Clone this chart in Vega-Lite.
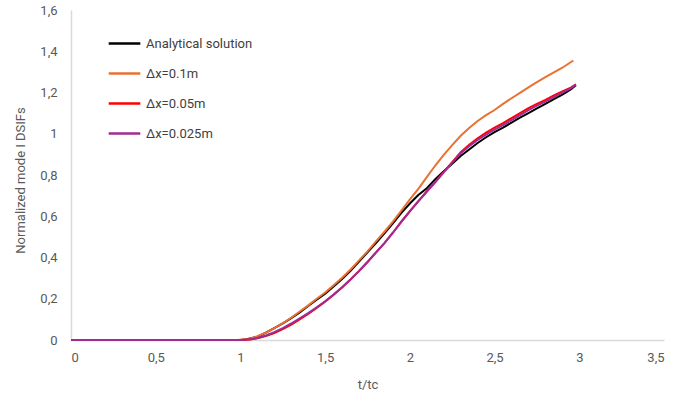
{
 "$schema": "https://vega.github.io/schema/vega-lite/v6.json",
 "autosize": "none",
 "width": 593,
 "height": 330,
 "padding": {"left": 71, "top": 10, "right": 30, "bottom": 59},
 "background": "white",
 "config": {"view": {"stroke": null}, "font": "Roboto, sans-serif"},
 "data": {"values": [
  {"s":"Analytical solution","t":0,"v":0},{"s":"Analytical solution","t":1.0,"v":0},{"s":"Analytical solution","t":1.03,"v":0.002},{"s":"Analytical solution","t":1.1,"v":0.016},{"s":"Analytical solution","t":1.15,"v":0.036},{"s":"Analytical solution","t":1.2,"v":0.058},{"s":"Analytical solution","t":1.25,"v":0.08},{"s":"Analytical solution","t":1.3,"v":0.106},{"s":"Analytical solution","t":1.35,"v":0.134},{"s":"Analytical solution","t":1.4,"v":0.165},{"s":"Analytical solution","t":1.45,"v":0.195},{"s":"Analytical solution","t":1.5,"v":0.225},{"s":"Analytical solution","t":1.55,"v":0.26},{"s":"Analytical solution","t":1.6,"v":0.296},{"s":"Analytical solution","t":1.65,"v":0.336},{"s":"Analytical solution","t":1.7,"v":0.38},{"s":"Analytical solution","t":1.75,"v":0.425},{"s":"Analytical solution","t":1.8,"v":0.47},{"s":"Analytical solution","t":1.85,"v":0.517},{"s":"Analytical solution","t":1.9,"v":0.566},{"s":"Analytical solution","t":1.95,"v":0.616},{"s":"Analytical solution","t":2.0,"v":0.662},{"s":"Analytical solution","t":2.05,"v":0.703},{"s":"Analytical solution","t":2.1,"v":0.736},{"s":"Analytical solution","t":2.15,"v":0.78},{"s":"Analytical solution","t":2.2,"v":0.818},{"s":"Analytical solution","t":2.25,"v":0.855},{"s":"Analytical solution","t":2.3,"v":0.892},{"s":"Analytical solution","t":2.35,"v":0.924},{"s":"Analytical solution","t":2.4,"v":0.955},{"s":"Analytical solution","t":2.45,"v":0.983},{"s":"Analytical solution","t":2.5,"v":1.008},{"s":"Analytical solution","t":2.55,"v":1.03},{"s":"Analytical solution","t":2.6,"v":1.054},{"s":"Analytical solution","t":2.65,"v":1.078},{"s":"Analytical solution","t":2.7,"v":1.1},{"s":"Analytical solution","t":2.75,"v":1.123},{"s":"Analytical solution","t":2.8,"v":1.145},{"s":"Analytical solution","t":2.85,"v":1.168},{"s":"Analytical solution","t":2.9,"v":1.19},{"s":"Analytical solution","t":2.95,"v":1.215},{"s":"Analytical solution","t":2.98,"v":1.235},
  {"s":"Δx=0.1m","t":0,"v":0},{"s":"Δx=0.1m","t":0.98,"v":0},{"s":"Δx=0.1m","t":1.05,"v":0.005},{"s":"Δx=0.1m","t":1.1,"v":0.018},{"s":"Δx=0.1m","t":1.15,"v":0.036},{"s":"Δx=0.1m","t":1.2,"v":0.057},{"s":"Δx=0.1m","t":1.25,"v":0.082},{"s":"Δx=0.1m","t":1.3,"v":0.108},{"s":"Δx=0.1m","t":1.35,"v":0.138},{"s":"Δx=0.1m","t":1.4,"v":0.168},{"s":"Δx=0.1m","t":1.45,"v":0.2},{"s":"Δx=0.1m","t":1.5,"v":0.23},{"s":"Δx=0.1m","t":1.55,"v":0.265},{"s":"Δx=0.1m","t":1.6,"v":0.302},{"s":"Δx=0.1m","t":1.65,"v":0.342},{"s":"Δx=0.1m","t":1.7,"v":0.386},{"s":"Δx=0.1m","t":1.75,"v":0.43},{"s":"Δx=0.1m","t":1.8,"v":0.478},{"s":"Δx=0.1m","t":1.85,"v":0.525},{"s":"Δx=0.1m","t":1.9,"v":0.574},{"s":"Δx=0.1m","t":1.95,"v":0.627},{"s":"Δx=0.1m","t":2.0,"v":0.682},{"s":"Δx=0.1m","t":2.05,"v":0.733},{"s":"Δx=0.1m","t":2.1,"v":0.79},{"s":"Δx=0.1m","t":2.15,"v":0.846},{"s":"Δx=0.1m","t":2.2,"v":0.898},{"s":"Δx=0.1m","t":2.25,"v":0.945},{"s":"Δx=0.1m","t":2.3,"v":0.99},{"s":"Δx=0.1m","t":2.35,"v":1.028},{"s":"Δx=0.1m","t":2.4,"v":1.062},{"s":"Δx=0.1m","t":2.45,"v":1.09},{"s":"Δx=0.1m","t":2.5,"v":1.115},{"s":"Δx=0.1m","t":2.55,"v":1.145},{"s":"Δx=0.1m","t":2.6,"v":1.172},{"s":"Δx=0.1m","t":2.65,"v":1.198},{"s":"Δx=0.1m","t":2.7,"v":1.225},{"s":"Δx=0.1m","t":2.75,"v":1.25},{"s":"Δx=0.1m","t":2.8,"v":1.275},{"s":"Δx=0.1m","t":2.85,"v":1.298},{"s":"Δx=0.1m","t":2.9,"v":1.32},{"s":"Δx=0.1m","t":2.965,"v":1.355},
  {"s":"Δx=0.05m","t":0,"v":0},{"s":"Δx=0.05m","t":1.0,"v":0},{"s":"Δx=0.05m","t":1.06,"v":0.002},{"s":"Δx=0.05m","t":1.1,"v":0.008},{"s":"Δx=0.05m","t":1.15,"v":0.019},{"s":"Δx=0.05m","t":1.2,"v":0.034},{"s":"Δx=0.05m","t":1.25,"v":0.053},{"s":"Δx=0.05m","t":1.3,"v":0.075},{"s":"Δx=0.05m","t":1.35,"v":0.1},{"s":"Δx=0.05m","t":1.4,"v":0.126},{"s":"Δx=0.05m","t":1.45,"v":0.155},{"s":"Δx=0.05m","t":1.5,"v":0.186},{"s":"Δx=0.05m","t":1.55,"v":0.219},{"s":"Δx=0.05m","t":1.6,"v":0.255},{"s":"Δx=0.05m","t":1.65,"v":0.293},{"s":"Δx=0.05m","t":1.7,"v":0.334},{"s":"Δx=0.05m","t":1.75,"v":0.378},{"s":"Δx=0.05m","t":1.8,"v":0.424},{"s":"Δx=0.05m","t":1.85,"v":0.47},{"s":"Δx=0.05m","t":1.9,"v":0.52},{"s":"Δx=0.05m","t":1.95,"v":0.573},{"s":"Δx=0.05m","t":2.0,"v":0.624},{"s":"Δx=0.05m","t":2.05,"v":0.673},{"s":"Δx=0.05m","t":2.1,"v":0.72},{"s":"Δx=0.05m","t":2.15,"v":0.767},{"s":"Δx=0.05m","t":2.2,"v":0.815},{"s":"Δx=0.05m","t":2.25,"v":0.862},{"s":"Δx=0.05m","t":2.3,"v":0.91},{"s":"Δx=0.05m","t":2.35,"v":0.947},{"s":"Δx=0.05m","t":2.4,"v":0.978},{"s":"Δx=0.05m","t":2.45,"v":1.005},{"s":"Δx=0.05m","t":2.5,"v":1.03},{"s":"Δx=0.05m","t":2.55,"v":1.052},{"s":"Δx=0.05m","t":2.6,"v":1.076},{"s":"Δx=0.05m","t":2.65,"v":1.1},{"s":"Δx=0.05m","t":2.7,"v":1.124},{"s":"Δx=0.05m","t":2.75,"v":1.145},{"s":"Δx=0.05m","t":2.8,"v":1.164},{"s":"Δx=0.05m","t":2.85,"v":1.186},{"s":"Δx=0.05m","t":2.9,"v":1.205},{"s":"Δx=0.05m","t":2.95,"v":1.224},{"s":"Δx=0.05m","t":2.98,"v":1.24},
  {"s":"Δx=0.025m","t":0,"v":0},{"s":"Δx=0.025m","t":1.0,"v":0},{"s":"Δx=0.025m","t":1.05,"v":0.002},{"s":"Δx=0.025m","t":1.1,"v":0.01},{"s":"Δx=0.025m","t":1.15,"v":0.022},{"s":"Δx=0.025m","t":1.2,"v":0.038},{"s":"Δx=0.025m","t":1.25,"v":0.058},{"s":"Δx=0.025m","t":1.3,"v":0.08},{"s":"Δx=0.025m","t":1.35,"v":0.105},{"s":"Δx=0.025m","t":1.4,"v":0.13},{"s":"Δx=0.025m","t":1.45,"v":0.158},{"s":"Δx=0.025m","t":1.5,"v":0.188},{"s":"Δx=0.025m","t":1.55,"v":0.22},{"s":"Δx=0.025m","t":1.6,"v":0.256},{"s":"Δx=0.025m","t":1.65,"v":0.294},{"s":"Δx=0.025m","t":1.7,"v":0.335},{"s":"Δx=0.025m","t":1.75,"v":0.378},{"s":"Δx=0.025m","t":1.8,"v":0.425},{"s":"Δx=0.025m","t":1.85,"v":0.47},{"s":"Δx=0.025m","t":1.9,"v":0.52},{"s":"Δx=0.025m","t":1.95,"v":0.575},{"s":"Δx=0.025m","t":2.0,"v":0.625},{"s":"Δx=0.025m","t":2.05,"v":0.672},{"s":"Δx=0.025m","t":2.1,"v":0.72},{"s":"Δx=0.025m","t":2.15,"v":0.765},{"s":"Δx=0.025m","t":2.2,"v":0.813},{"s":"Δx=0.025m","t":2.25,"v":0.86},{"s":"Δx=0.025m","t":2.3,"v":0.905},{"s":"Δx=0.025m","t":2.35,"v":0.94},{"s":"Δx=0.025m","t":2.4,"v":0.97},{"s":"Δx=0.025m","t":2.45,"v":0.996},{"s":"Δx=0.025m","t":2.5,"v":1.02},{"s":"Δx=0.025m","t":2.55,"v":1.042},{"s":"Δx=0.025m","t":2.6,"v":1.066},{"s":"Δx=0.025m","t":2.65,"v":1.09},{"s":"Δx=0.025m","t":2.7,"v":1.115},{"s":"Δx=0.025m","t":2.75,"v":1.136},{"s":"Δx=0.025m","t":2.8,"v":1.156},{"s":"Δx=0.025m","t":2.85,"v":1.178},{"s":"Δx=0.025m","t":2.9,"v":1.199},{"s":"Δx=0.025m","t":2.95,"v":1.22},{"s":"Δx=0.025m","t":2.98,"v":1.238}
 ]},
 "mark": {"type": "line", "strokeWidth": 2},
 "encoding": {
  "x": {"field": "t", "type": "quantitative", "scale": {"domain": [0, 3.5], "nice": false},
   "axis": {"title": "t/tc", "values": [0,0.5,1,1.5,2,2.5,3,3.5], "labelExpr": "replace(format(datum.value, '.1~f'), '.', ',')",
    "grid": false, "ticks": false, "domainColor": "#D9D9D9", "domainWidth": 1.5, "labelColor": "#595959", "labelFontSize": 13, "labelPadding": 11,
    "titleColor": "#595959", "titleFontSize": 13, "titleFontWeight": "normal", "titleY": 44, "titleBaseline": "middle"}},
  "y": {"field": "v", "type": "quantitative", "scale": {"domain": [0, 1.6], "nice": false},
   "axis": {"title": "Normalized mode I DSIFs", "values": [0,0.2,0.4,0.6,0.8,1,1.2,1.4,1.6], "labelExpr": "replace(format(datum.value, '.1~f'), '.', ',')",
    "grid": false, "ticks": false, "domainColor": "#D9D9D9", "domainWidth": 1.5, "labelColor": "#595959", "labelFontSize": 13, "labelPadding": 14,
    "titleColor": "#595959", "titleFontSize": 13, "titleFontWeight": "normal", "titleX": -51, "titleY": 170, "titleBaseline": "middle", "titleAlign": "center", "titleAngle": -90}},
  "color": {"field": "s", "type": "nominal", "sort": ["Analytical solution", "Δx=0.1m", "Δx=0.05m", "Δx=0.025m"],
   "scale": {"domain": ["Analytical solution", "Δx=0.1m", "Δx=0.05m", "Δx=0.025m"], "range": ["#000000", "#E97132", "#FF0000", "#A02B93"]},
   "legend": {"title": null, "orient": "none", "legendX": 36, "legendY": 16, "symbolType": "stroke", "symbolSize": 1000, "symbolStrokeWidth": 2.5,
    "labelFontSize": 13, "labelColor": "#404040", "labelOffset": 4, "rowPadding": 5}}
 }
}
